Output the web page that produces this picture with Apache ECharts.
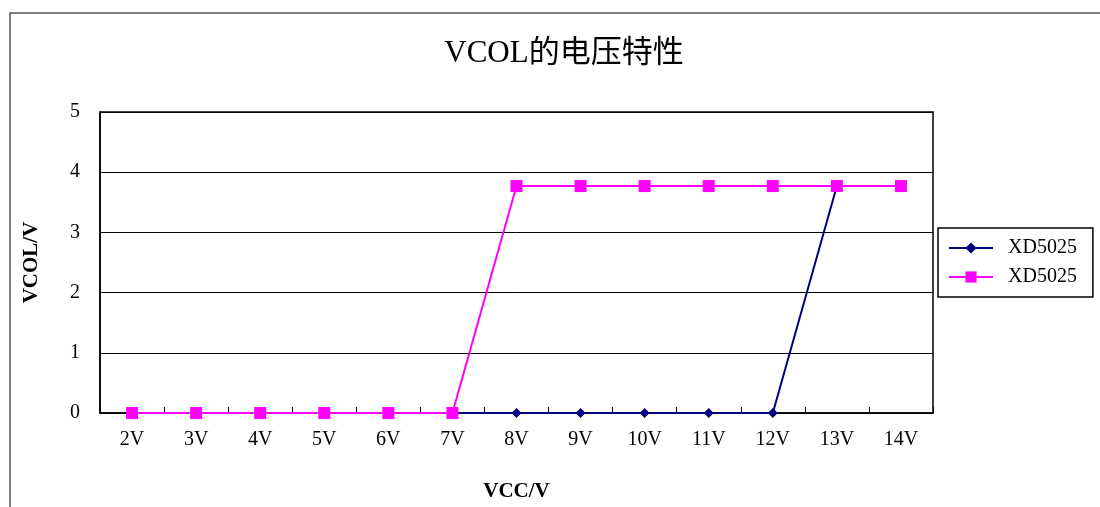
<!DOCTYPE html>
<html><head><meta charset="utf-8">
<script src="https://cdn.jsdelivr.net/npm/echarts@6/dist/echarts.min.js"></script>
<style>html,body{margin:0;padding:0;background:#fff}#c{width:1100px;height:507px}</style>
</head><body><div id="c"></div>
<script>
const categories = ['2V','3V','4V','5V','6V','7V','8V','9V','10V','11V','12V','13V','14V'];
const seriesNames = ['XD5025','XD5025'];
const navyValues = [0,0,0,0,0,0,0,0,0,0,0,3.77,3.77];
const magentaValues = [0,0,0,0,0,0,3.77,3.77,3.77,3.77,3.77,3.77,3.77];
const yTicks = [0,1,2,3,4,5];

const F = '"Liberation Serif","Noto Sans CJK SC",serif';
const chart = echarts.init(document.getElementById('c'), null, {renderer:'canvas'});
chart.setOption({
  animation:false,
  backgroundColor:'#fff',
  graphic:[{type:'rect',shape:{x:10,y:13,width:1200,height:600},style:{fill:'none',stroke:'#555',lineWidth:1.5},z:-1}],
  title:{text:'VCOL的电压特性',left:559,top:33,textAlign:'center',
    textStyle:{fontFamily:F,fontSize:31,fontWeight:'normal',color:'#000'}},
  legend:{orient:'vertical',left:938,top:228,
    padding:[10,16,10,10],itemGap:9,
    borderColor:'#000',borderWidth:1.5,
    itemWidth:44,itemHeight:14,
    textStyle:{fontFamily:F,fontSize:20,color:'#000',padding:[0,0,0,10]},
    data:['s1','s2'],
    formatter:function(n){return n==='s1'?seriesNames[0]:seriesNames[1];}
  },
  grid:{left:100,right:167,top:112,bottom:94,show:true,borderColor:'#000',borderWidth:1.5},
  xAxis:{type:'category',data:categories,boundaryGap:true,
    name:'VCC/V',nameLocation:'middle',nameGap:68,
    nameTextStyle:{fontFamily:F,fontSize:21,fontWeight:'bold',color:'#000'},
    axisLine:{show:true,lineStyle:{color:'#000',width:1.5}},
    axisTick:{show:true,inside:true,length:6,interval:0,alignWithLabel:false,lineStyle:{color:'#000',width:1}},
    axisLabel:{fontFamily:F,fontSize:20,color:'#000',margin:17,interval:0},
    splitLine:{show:false}},
  yAxis:{type:'value',min:0,max:5,interval:1,
    name:'VCOL/V',nameLocation:'middle',nameGap:58,nameRotate:90,
    nameTextStyle:{fontFamily:F,fontSize:21,fontWeight:'bold',color:'#000'},
    axisLine:{show:true,lineStyle:{color:'#000',width:1.5}},
    axisTick:{show:false},
    axisLabel:{fontFamily:F,fontSize:20,color:'#000',margin:20,
      formatter:function(v){return yTicks.indexOf(v)>=0?String(v):'';}},
    splitLine:{lineStyle:{color:'#000',width:1}}},
  series:[
    {name:'s1',type:'line',data:navyValues,symbol:'diamond',symbolSize:10,
      itemStyle:{color:'#000080'},lineStyle:{color:'#000080',width:2},z:2},
    {name:'s2',type:'line',data:magentaValues,symbol:'rect',symbolSize:12,
      itemStyle:{color:'#FF00FF'},lineStyle:{color:'#FF00FF',width:2},z:3}
  ]
});
</script></body></html>
